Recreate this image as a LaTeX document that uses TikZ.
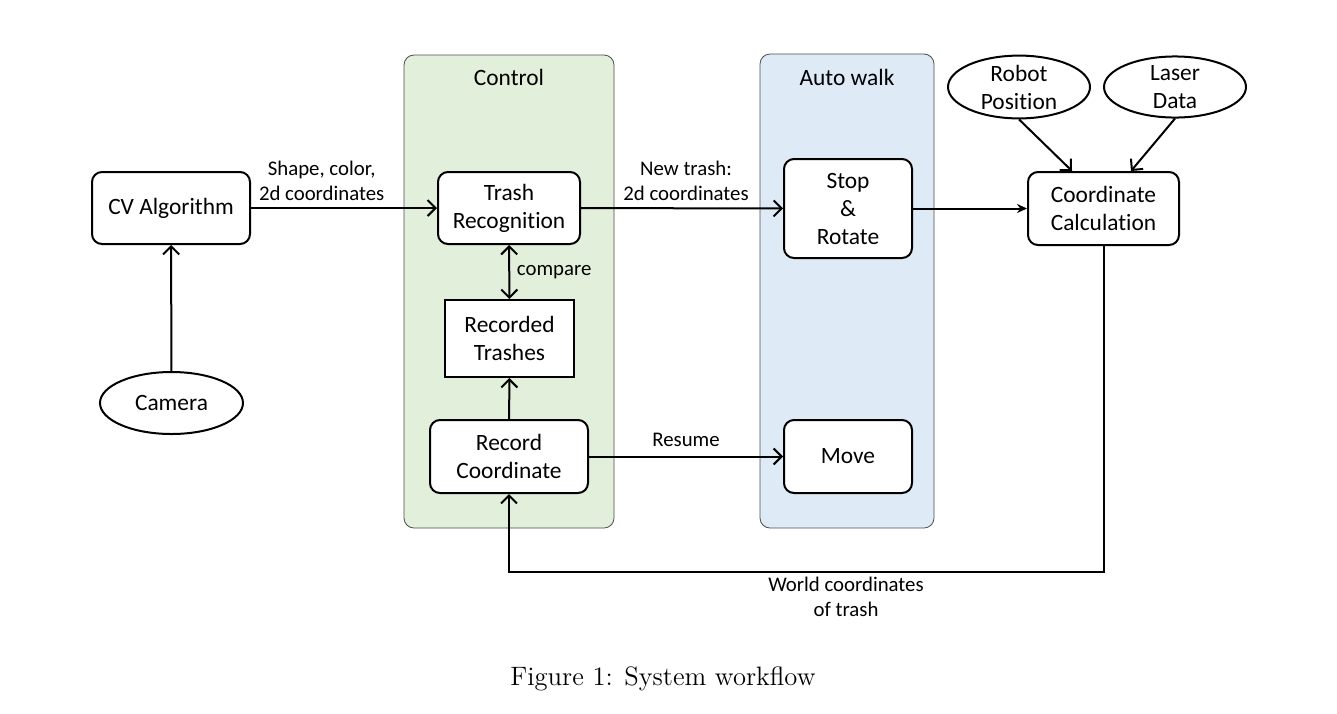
\documentclass[tikz,border=0pt]{standalone}
\usepackage{fontspec}
\newfontfamily\calibri[Ligatures=NoCommon]{Carlito}
\usetikzlibrary{shapes.geometric,arrows.meta,calc}
\definecolor{ctlgreen}{HTML}{E2EFDA}
\definecolor{walkblue}{HTML}{DEEBF7}
\tikzset{
  box/.style={draw,line width=1pt,rounded corners=5pt,fill=white,align=center,inner sep=0pt,font=\calibri\fontsize{11.7}{14}\selectfont},
  sqbox/.style={draw,line width=1pt,fill=white,align=center,inner sep=0pt,font=\calibri\fontsize{11.7}{14}\selectfont},
  oval/.style={draw,ellipse,line width=1pt,fill=white,align=center,inner sep=0pt,font=\calibri\fontsize{11.7}{14}\selectfont},
  group/.style={draw=black!70,line width=0.4pt,rounded corners=5pt},
  title/.style={font=\calibri\fontsize{11.7}{14}\selectfont},
  lbl/.style={align=center,font=\calibri\fontsize{10.4}{12.5}\selectfont},
  arr/.style={line width=1pt,-{Straight Barb[length=4pt,width=8pt]}},
  darr/.style={line width=1pt,{Straight Barb[length=4pt,width=8pt]}-{Straight Barb[length=4pt,width=8pt]}},
  farr/.style={line width=1pt,-{Stealth[length=5pt,width=4.5pt]}},
}
\begin{document}
\begin{tikzpicture}[x=0.5pt,y=-0.5pt]
\useasboundingbox (0,0) rectangle (1337,713);
% containers
\draw[group,fill=ctlgreen] (404,55) rectangle (614,528);
\draw[group,fill=walkblue] (760,54) rectangle (934,528);
\node[title] (ctl) at (509,77) {Control};
\node[title] (aw) at (847,77) {Auto walk};
% nodes
\node[box,minimum width=79pt,minimum height=36pt] (cv) at (171,208) {CV Algorithm};
\node[oval,minimum width=71.5pt,minimum height=31pt] (cam) at (171.5,403) {Camera};
\node[box,minimum width=71pt,minimum height=36pt] (tr) at (509,208) {Trash\\Recognition};
\node[sqbox,minimum width=64.5pt,minimum height=38.5pt] (rt) at (509.5,338.5) {Recorded\\Trashes};
\node[box,minimum width=79pt,minimum height=36.5pt] (rc) at (509,456.5) {Record\\Coordinate};
\node[box,minimum width=64pt,minimum height=49.5pt] (sr) at (848,208.5) {Stop\\\&\\Rotate};
\node[box,minimum width=64pt,minimum height=36.5pt] (mv) at (848,456.5) {Move};
\node[box,minimum width=75.5pt,minimum height=36.5pt] (cc) at (1103.5,208.5) {Coordinate\\Calculation};
\node[oval,minimum width=71pt,minimum height=30pt] (rp) at (1019,87) {Robot\\Position};
\node[oval,minimum width=71pt,minimum height=30pt] (ld) at (1175,87) {Laser\\Data};
% connectors
\draw[arr] (cam) -- (cv);
\draw[arr] (cv) -- node[lbl,above=0pt,pos=0.38] {Shape, color,\\2d coordinates} (tr);
\draw[arr] (tr) -- node[lbl,above=0pt,pos=0.52] {New trash:\\2d coordinates} (sr);
\draw[farr] (sr) -- (cc);
\draw[darr] (tr) -- node[lbl,right=0pt] {compare} (rt);
\draw[arr] (rc) -- (rt);
\draw[arr] (rc.east) -- node[lbl,above=1pt] {Resume} (mv.west);
\draw[arr] (rp.south) -- ([xshift=-15.75pt]cc.north);
\draw[arr] (ld.south) -- ([xshift=13.75pt]cc.north);
\coordinate (fb) at (0,572);
\draw[arr] (cc.south) -- (cc.south |- fb) -| (rc.south);
\node[lbl] (wc) at (846,597) {World coordinates\\of trash};
% caption
\node[font=\fontsize{13.3}{16}\selectfont] (cap) at (663,679) {Figure 1: System workflow};
\end{tikzpicture}
\end{document}
